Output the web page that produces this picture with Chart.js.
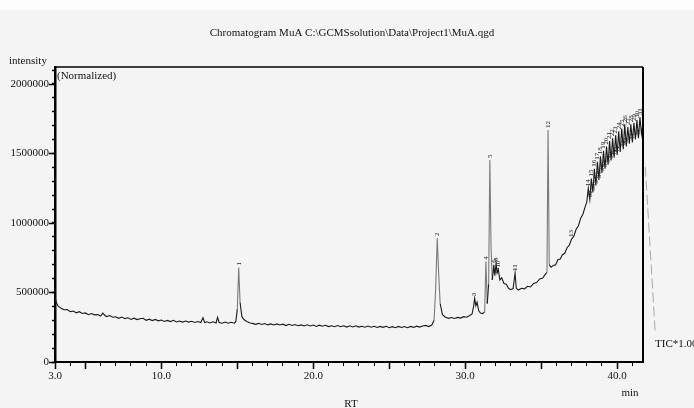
<!DOCTYPE html>
<html>
<head>
<meta charset="utf-8">
<title>Chromatogram MuA</title>
<script src="https://cdn.jsdelivr.net/npm/chart.js@4.4.1/dist/chart.umd.min.js"></script>
<style>
  html, body { margin: 0; padding: 0; background: #f4f4f4; }
  #wrap { width: 694px; height: 408px; position: relative; }
</style>
</head>
<body>
<div id="wrap"><canvas id="chrom"></canvas></div>
<script>
const TITLE = 'Chromatogram MuA C:\\GCMSsolution\\Data\\Project1\\MuA.qgd';

// [tempo de retenção (min), intensidade TIC normalizada]
const tracePts = [
  [3.00, 430000], [3.05, 446000], [3.10, 424000], [3.20, 404000], [3.40, 386000], [3.60, 376000],
  [3.80, 377000], [4.00, 362000], [4.20, 366000], [4.40, 354000], [4.60, 362000], [4.80, 349000],
  [5.00, 353000], [5.20, 340000], [5.40, 349000], [5.60, 339000], [5.80, 341000], [6.00, 331000],
  [6.15, 352000], [6.30, 333000], [6.40, 327000], [6.60, 334000], [6.80, 322000], [7.00, 325000],
  [7.20, 314000], [7.40, 323000], [7.60, 312000], [7.80, 318000], [8.00, 306000], [8.20, 315000],
  [8.40, 305000], [8.60, 311000], [8.80, 315000], [9.00, 300000], [9.20, 308000], [9.40, 298000],
  [9.60, 306000], [9.80, 296000], [10.00, 302000], [10.20, 292000], [10.40, 299000], [10.60, 291000],
  [10.80, 300000], [11.00, 288000], [11.20, 295000], [11.40, 287000], [11.60, 295000], [11.80, 287000],
  [12.00, 293000], [12.20, 284000], [12.40, 291000], [12.60, 284000], [12.74, 318000], [12.85, 284000],
  [13.00, 289000], [13.20, 281000], [13.40, 289000], [13.60, 281000], [13.70, 322000], [13.80, 284000],
  [14.00, 279000], [14.20, 287000], [14.40, 279000], [14.60, 286000], [14.80, 279000], [14.90, 290000],
  [15.00, 380000], [15.09, 680000], [15.18, 430000], [15.30, 326000], [15.45, 304000], [15.65, 290000],
  [15.85, 280000], [16.00, 278000], [16.20, 271000], [16.40, 278000], [16.60, 270000], [16.80, 277000],
  [17.00, 267000], [17.20, 274000], [17.40, 266000], [17.60, 274000], [17.80, 266000], [18.00, 272000],
  [18.20, 262000], [18.40, 271000], [18.60, 263000], [18.80, 270000], [19.00, 261000], [19.20, 267000],
  [19.40, 259000], [19.60, 268000], [19.80, 259000], [20.00, 266000], [20.20, 256000], [20.40, 265000],
  [20.60, 257000], [20.80, 264000], [21.00, 255000], [21.20, 261000], [21.40, 254000], [21.60, 262000],
  [21.80, 254000], [22.00, 261000], [22.20, 251000], [22.40, 260000], [22.60, 252000], [22.80, 260000],
  [23.00, 251000], [23.20, 257000], [23.40, 250000], [23.60, 259000], [23.80, 250000], [24.00, 257000],
  [24.20, 248000], [24.40, 256000], [24.60, 249000], [24.80, 257000], [25.00, 247000], [25.20, 254000],
  [25.40, 247000], [25.60, 256000], [25.80, 248000], [26.00, 255000], [26.20, 247000], [26.40, 256000],
  [26.60, 249000], [26.80, 258000], [27.00, 251000], [27.20, 259000], [27.40, 263000], [27.60, 255000],
  [27.80, 266000], [27.95, 300000], [28.05, 520000], [28.16, 892000], [28.25, 640000], [28.35, 420000],
  [28.50, 340000], [28.70, 322000], [28.90, 314000], [29.10, 320000], [29.30, 313000], [29.50, 321000],
  [29.70, 316000], [29.90, 326000], [30.10, 322000], [30.30, 334000], [30.45, 345000], [30.55, 400000],
  [30.62, 458000], [30.70, 405000], [30.78, 430000], [30.88, 370000], [31.00, 352000], [31.15, 348000],
  [31.28, 362000], [31.36, 722000], [31.45, 420000], [31.54, 560000], [31.62, 1453000], [31.70, 820000],
  [31.78, 590000], [31.88, 700000], [31.95, 620000], [32.03, 712000], [32.10, 640000], [32.18, 665000],
  [32.28, 590000], [32.40, 605000], [32.55, 565000], [32.70, 560000], [32.85, 530000], [33.00, 520000],
  [33.15, 528000], [33.28, 640000], [33.36, 530000], [33.50, 518000], [33.70, 530000], [33.90, 526000],
  [34.10, 545000], [34.30, 540000], [34.50, 565000], [34.70, 572000], [34.90, 598000], [35.10, 604000],
  [35.25, 628000], [35.38, 645000], [35.45, 1669000], [35.53, 700000], [35.65, 682000], [35.80, 695000],
  [35.95, 700000], [36.10, 735000], [36.25, 740000], [36.40, 772000], [36.55, 782000], [36.70, 822000],
  [36.85, 840000], [37.00, 885000], [37.15, 905000], [37.30, 955000], [37.45, 980000], [37.60, 1035000],
  [37.75, 1065000], [37.90, 1120000], [38.00, 1150000], [38.10, 1250000], [38.20, 1170000], [38.30, 1320000],
  [38.40, 1220000], [38.50, 1390000], [38.60, 1270000], [38.70, 1440000], [38.80, 1310000], [38.90, 1480000],
  [39.00, 1360000], [39.10, 1520000], [39.20, 1390000], [39.30, 1550000], [39.40, 1420000], [39.50, 1590000],
  [39.60, 1450000], [39.70, 1610000], [39.80, 1470000], [39.90, 1630000], [40.00, 1490000], [40.10, 1660000],
  [40.20, 1510000], [40.30, 1680000], [40.40, 1530000], [40.50, 1710000], [40.60, 1550000], [40.70, 1690000],
  [40.80, 1570000], [40.90, 1710000], [41.00, 1580000], [41.10, 1720000], [41.20, 1600000], [41.30, 1740000],
  [41.40, 1610000], [41.50, 1760000], [41.60, 1640000], [41.70, 1720000]
];
const rt  = tracePts.map(p => p[0]);
const tic = tracePts.map(p => p[1]);

// linha tracejada de saída (TIC*1.00), fora da área do gráfico
const tailRT  = [41.85, 42.50];
const tailTIC = [1405000, 218000];

// picos numerados
const peakNo = [
  '1', '2', '3', '4', '5', '6', '7', '8', '9', '10', '11', '12', '13',
  '14', '15', '16', '17', '18', '19', '20', '21', '22', '23', '24', '25', '26', '27', '28', '29',
  '30', '31', '32', '33', '34', '35', '36', '37', '38', '39', '40', '41', '42', '43', '44', '45'
];
const peakRT = [
  15.09, 28.16, 30.62, 31.36, 31.62, 31.88, 31.95, 32.03, 32.10, 32.18, 33.28, 35.45, 37.00,
  38.10, 38.30, 38.50, 38.70, 38.90, 39.10, 39.30, 39.50, 39.70, 39.90, 40.10, 40.30, 40.50, 40.70, 40.90, 41.10,
  41.30, 41.50, 38.20, 38.40, 38.60, 38.80, 39.00, 39.20, 39.40, 39.60, 39.80, 40.00, 40.40, 40.60, 41.00, 41.40
];

// eixos: marcas e rótulos
const xTickVals = [3, 4, 5, 6, 7, 8, 9, 10, 11, 12, 13, 14, 15, 16, 17, 18, 19, 20, 21, 22,
                   23, 24, 25, 26, 27, 28, 29, 30, 31, 32, 33, 34, 35, 36, 37, 38, 39, 40, 41];
const xLabelAt  = [3, 10, 20, 30, 40];
const xLabels   = ['3.0', '10.0', '20.0', '30.0', '40.0'];
const yTickVals = [0, 100000, 200000, 300000, 400000, 500000, 600000, 700000, 800000, 900000, 1000000,
                   1100000, 1200000, 1300000, 1400000, 1500000, 1600000, 1700000, 1800000, 1900000,
                   2000000, 2100000];
const yLabelAt  = [0, 500000, 1000000, 1500000, 2000000];
const yLabels   = ['0', '500000', '1000000', '1500000', '2000000'];

const SERIF = "'Liberation Serif', 'DejaVu Serif', serif";

/* ---------- Plugin: fundo, moldura, textos e rótulos de picos ---------- */
const chromPlugin = {
  id: 'chromDeco',
  beforeDraw(chart) {
    const { ctx, width, height } = chart;
    ctx.save();
    ctx.fillStyle = '#f4f4f4';
    ctx.fillRect(0, 0, width, height);
    ctx.fillStyle = '#fdfdfd';
    ctx.fillRect(0, 0, width, 10);
    ctx.restore();
  },
  afterDatasetsDraw(chart) {
    const { ctx, chartArea: a, scales: { x, y } } = chart;
    ctx.save();

    // linha tracejada cinza após o fim da corrida
    ctx.strokeStyle = '#a8a8a8';
    ctx.lineWidth = 1;
    ctx.setLineDash([10, 4]);
    ctx.beginPath();
    tailRT.forEach((t, i) => {
      const px = x.getPixelForValue(t), py = y.getPixelForValue(tailTIC[i]);
      i ? ctx.lineTo(px, py) : ctx.moveTo(px, py);
    });
    ctx.stroke();
    ctx.setLineDash([]);

    // moldura superior e direita
    ctx.strokeStyle = '#000';
    ctx.lineWidth = 1.5;
    ctx.beginPath();
    ctx.moveTo(a.left, a.top); ctx.lineTo(a.right, a.top);
    ctx.stroke();
    ctx.lineWidth = 2;
    ctx.beginPath();
    ctx.moveTo(a.right, a.top); ctx.lineTo(a.right, a.bottom + 1);
    ctx.stroke();

    // marcas maiores nos rótulos (5 em 5 min e rótulos de y)
    ctx.lineWidth = 1.5;
    ctx.beginPath();
    xTickVals.filter(v => v % 5 === 0 || v === 3).forEach(v => {
      const px = Math.round(x.getPixelForValue(v)) + 0.5;
      ctx.moveTo(px, a.bottom); ctx.lineTo(px, a.bottom + 7);
    });
    yLabelAt.forEach(v => {
      const py = Math.round(y.getPixelForValue(v)) + 0.5;
      ctx.moveTo(a.left, py); ctx.lineTo(a.left - 6, py);
    });
    ctx.stroke();

    // números dos picos (rotacionados)
    ctx.fillStyle = '#222';
    ctx.font = '7px ' + SERIF;
    ctx.textAlign = 'left';
    ctx.textBaseline = 'middle';
    peakNo.forEach((lbl, k) => {
      let best = 0;
      rt.forEach((t, i) => { if (Math.abs(t - peakRT[k]) < Math.abs(rt[best] - peakRT[k])) best = i; });
      const px = x.getPixelForValue(rt[best]);
      const py = y.getPixelForValue(tic[best]) - 2;
      ctx.save();
      ctx.translate(px, py);
      ctx.rotate(-Math.PI / 2);
      ctx.fillText(lbl, 0, 0);
      ctx.restore();
    });

    // textos
    ctx.fillStyle = '#111';
    ctx.font = '11px ' + SERIF;
    ctx.textBaseline = 'middle';
    ctx.textAlign = 'center';
    ctx.fillText(TITLE, 352, 33);
    ctx.fillText('min', 630, 393);
    ctx.fillText('RT', 351, 404);
    ctx.textAlign = 'left';
    ctx.fillText('intensity', 9, 61);
    ctx.fillText('(Normalized)', a.left + 2, 76);
    ctx.fillText('TIC*1.00', 655, 344);
    ctx.restore();
  }
};

/* ---------- Gráfico ---------- */
new Chart(document.getElementById('chrom'), {
  type: 'line',
  data: {
    datasets: [{
      label: 'TIC',
      data: rt.map((t, i) => ({ x: t, y: tic[i] })),
      borderColor: '#1a1a1a',
      borderWidth: 1.1,
      pointRadius: 0,
      tension: 0,
      fill: false,
      // flancos íngremes dos picos aparecem mais claros no original
      segment: {
        borderColor: c => Math.abs(c.p1.y - c.p0.y) > 30 ? '#7a7a7a' : undefined,
      },
    }],
  },
  options: {
    responsive: true,
    maintainAspectRatio: false,
    animation: false,
    devicePixelRatio: 1,
    layout: { padding: { top: 67, right: 51, left: 0, bottom: 0 } },
    plugins: { legend: { display: false }, tooltip: { enabled: false } },
    scales: {
      x: {
        type: 'linear',
        min: 3, max: 41.7,
        afterBuildTicks: s => { s.ticks = xTickVals.map(v => ({ value: v })); },
        afterFit: s => { s.height = 46; },
        border: { display: true, color: '#000', width: 2 },
        grid: { drawOnChartArea: false, drawTicks: true, tickLength: 4, tickColor: '#000', tickWidth: 1 },
        ticks: {
          autoSkip: false, maxRotation: 0,
          color: '#111', padding: 4, font: { family: SERIF, size: 11 },
          callback: v => { const k = xLabelAt.indexOf(Math.round(v * 10) / 10); return k >= 0 ? xLabels[k] : ''; },
        },
      },
      y: {
        type: 'linear',
        min: 0, max: 2122000,
        afterBuildTicks: s => { s.ticks = yTickVals.map(v => ({ value: v })); },
        afterFit: s => { s.width = 55; },
        border: { display: true, color: '#000', width: 2.5 },
        grid: { drawOnChartArea: false, drawTicks: true, tickLength: 3, tickColor: '#000', tickWidth: 1.5 },
        ticks: {
          autoSkip: false,
          color: '#111', padding: 3, font: { family: SERIF, size: 11 },
          callback: v => { const k = yLabelAt.indexOf(Math.round(v)); return k >= 0 ? yLabels[k] : ''; },
        },
      },
    },
  },
  plugins: [chromPlugin],
});
</script>
</body>
</html>
